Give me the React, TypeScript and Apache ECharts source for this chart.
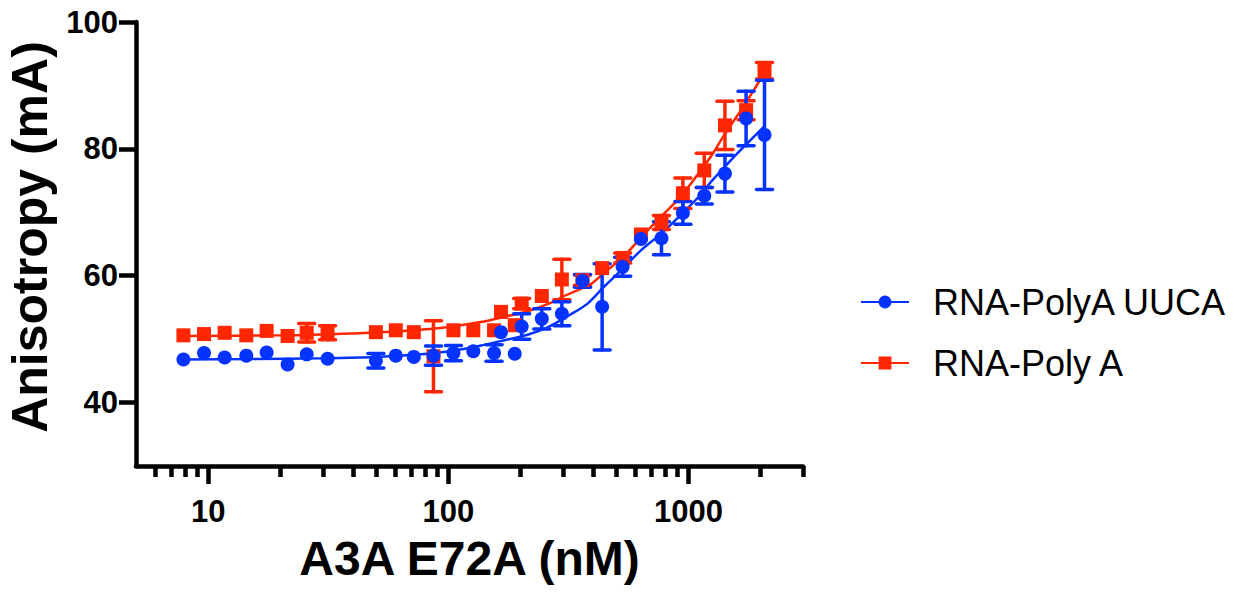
import React, { useEffect, useRef } from "react";
import * as echarts from "echarts";

// Concentration of A3A E72A (nM), shared by both datasets
const concentrations = [
  7.88, 9.6, 11.7, 14.4, 17.5, 21.4, 25.7, 31.4, 49.9, 60.4, 71.8, 86.7, 105, 127, 155,
  165.6, 189, 202, 245, 297, 362, 437, 532, 634, 772, 948, 1164, 1419, 1738, 2074,
];

// RNA-PolyA UUCA (blue circles)
const uucaMean = [
  46.8, 47.8, 47.1, 47.4, 47.9, 46.0, 47.6, 46.9, 46.6, 47.4, 47.2, 47.4, 47.8, 48.1, 47.8,
  51.1, 47.7, 52.0, 53.2, 54.0, 59.2, 55.1, 61.4, 65.8, 65.9, 69.9, 72.6, 76.1, 84.8, 82.2,
];
const uucaErr = [
  0, 0, 0, 0, 0, 0, 0, 0, 1.15, 0, 0, 1.5, 1.2, 0, 1.3,
  0, 0, 2.0, 1.6, 1.9, 1.0, 6.8, 1.5, 0, 2.6, 1.8, 1.3, 2.9, 4.3, 8.6,
];

// RNA-Poly A (red squares)
const polyAMean = [
  50.6, 50.8, 51.0, 50.6, 51.3, 50.5, 51.0, 51.0, 51.1, 51.4, 51.1, 47.3, 51.4, 51.4, 51.4,
  54.3, 52.2, 55.6, 56.8, 59.4, 59.3, 61.2, 62.8, 66.5, 68.4, 73.0, 76.6, 83.7, 86.1, 92.3,
];
const polyAErr = [
  0, 0, 0, 0, 0, 0, 1.45, 1.1, 0, 0, 0, 5.6, 0, 0, 0,
  0, 0, 0.8, 0, 3.2, 0.8, 0, 0.8, 0, 1.1, 2.4, 2.7, 3.8, 1.5, 1.3,
];

// Fitted curves
const uucaFitX = [7.88, 15, 30, 50, 77, 110, 137, 170, 214, 260, 320, 380, 446, 523, 634, 768, 930, 1127, 1241, 1500, 1750, 2074];
const uucaFitY = [46.8, 46.85, 47.0, 47.2, 47.6, 48.3, 49.0, 49.8, 50.7, 51.9, 53.8, 55.6, 58.3, 60.8, 64.0, 66.6, 69.6, 72.8, 74.8, 78.2, 80.8, 83.6];
const polyAFitX = [7.88, 20, 40, 60, 90, 136, 175, 214, 270, 300, 392, 446, 530, 634, 768, 930, 1091, 1250, 1410, 1710, 2074];
const polyAFitY = [50.5, 50.6, 50.9, 51.2, 51.7, 52.7, 53.6, 54.4, 55.8, 56.7, 58.7, 60.5, 62.8, 66.0, 69.3, 72.5, 75.9, 79.0, 82.2, 86.9, 92.0];

// Axis ticks
const xMajorTicks = [10, 100, 1000];
const xMinorTicks = [6, 7, 8, 9, 20, 30, 40, 50, 60, 70, 80, 90, 200, 300, 400, 500, 600, 700, 800, 900, 2000, 3000];
const yTicks = [40, 60, 80, 100];

const seriesNames = ["RNA-PolyA UUCA", "RNA-Poly A"];
const BLUE = "#0433FF";
const RED = "#FF2600";
const FONT = "'Liberation Sans', Arial, Helvetica, sans-serif";

function errorBars(name: string, mean: number[], err: number[], color: string) {
  return {
    type: "custom",
    name: name + " error",
    xAxisIndex: 0,
    yAxisIndex: 0,
    data: concentrations.map((c, i) => [c, mean[i], err[i]]),
    encode: { x: 0, y: 1 },
    silent: true,
    renderItem: (params: any, api: any) => {
      const x = api.value(0);
      const y = api.value(1);
      const e = api.value(2);
      if (!e) return null;
      const top = api.coord([x, y + e]);
      const bot = api.coord([x, y - e]);
      const hw = 8;
      const style = { stroke: color, lineWidth: 3.5, lineCap: "round" };
      return {
        type: "group",
        children: [
          { type: "line", shape: { x1: top[0], y1: top[1], x2: bot[0], y2: bot[1] }, style },
          { type: "line", shape: { x1: top[0] - hw, y1: top[1], x2: top[0] + hw, y2: top[1] }, style },
          { type: "line", shape: { x1: bot[0] - hw, y1: bot[1], x2: bot[0] + hw, y2: bot[1] }, style },
        ],
      };
    },
    z: 3,
  };
}

function fitLine(name: string, xs: number[], ys: number[], color: string, symbol: string) {
  return {
    type: "line",
    name,
    data: xs.map((x, i) => [x, ys[i]]),
    smooth: 0.3,
    symbol,
    symbolSize: 14,
    showSymbol: false,
    lineStyle: { color, width: 2.5 },
    itemStyle: { color },
    z: 2,
  };
}

function points(name: string, mean: number[], color: string, symbol: string) {
  return {
    type: "scatter",
    name: name + " points",
    data: concentrations.map((c, i) => [c, mean[i]]),
    symbol,
    symbolSize: 14,
    itemStyle: { color, opacity: 1 },
    z: 4,
  };
}

export default function App() {
  const ref = useRef<HTMLDivElement>(null);
  useEffect(() => {
    const chart = echarts.init(ref.current!, null, { renderer: "svg" });
    const axisLine = { show: true, lineStyle: { color: "#000", width: 4.5 } };
    chart.setOption({
      animation: false,
      backgroundColor: "#fff",
      grid: { left: 136, right: 436, top: 22, bottom: 126, containLabel: false, outerBoundsMode: "none" },
      legend: {
        data: seriesNames,
        orient: "vertical",
        left: 855,
        top: 279,
        itemWidth: 48,
        itemHeight: 16,
        itemGap: 25,
        textStyle: { fontFamily: FONT, fontSize: 36, color: "#000", padding: [0, 0, 0, 19] },
        selectedMode: false,
      },
      xAxis: [
        {
          type: "log",
          logBase: 10,
          min: 5,
          max: 3000,
          name: "A3A E72A (nM)",
          nameLocation: "middle",
          nameGap: 68,
          nameTextStyle: { fontFamily: FONT, fontSize: 48, fontWeight: "bold", color: "#000" },
          axisLine,
          axisTick: { show: true, customValues: xMajorTicks, length: 18, lineStyle: { color: "#000", width: 4.5 } },
          axisLabel: {
            customValues: xMajorTicks,
            formatter: (v: number) => String(Math.round(v)),
            fontFamily: FONT,
            fontSize: 31,
            fontWeight: "bold",
            color: "#000",
            margin: 30,
          },
          splitLine: { show: false },
          minorTick: { show: false },
        },
        {
          type: "log",
          logBase: 10,
          min: 5,
          max: 3000,
          position: "bottom",
          axisLine: { show: false },
          axisTick: { show: true, customValues: xMinorTicks, length: 11, lineStyle: { color: "#000", width: 4.5 } },
          axisLabel: { show: false },
          splitLine: { show: false },
        },
      ],
      yAxis: {
        type: "value",
        min: 30,
        max: 100,
        name: "Anisotropy (mA)",
        nameLocation: "middle",
        nameGap: 76,
        nameTextStyle: {
          fontFamily: FONT,
          fontSize: 50,
          fontWeight: "bold",
          color: "#000",
          padding: [0, 0, 0, 14],
        },
        axisLine,
        axisTick: { show: true, customValues: yTicks, length: 17, lineStyle: { color: "#000", width: 4.5 } },
        axisLabel: {
          customValues: yTicks,
          fontFamily: FONT,
          fontSize: 31,
          fontWeight: "bold",
          color: "#000",
          margin: 18,
        },
        splitLine: { show: false },
      },
      series: [
        fitLine(seriesNames[1], polyAFitX, polyAFitY, RED, "rect"),
        errorBars(seriesNames[1], polyAMean, polyAErr, RED),
        points(seriesNames[1], polyAMean, RED, "rect"),
        fitLine(seriesNames[0], uucaFitX, uucaFitY, BLUE, "circle"),
        errorBars(seriesNames[0], uucaMean, uucaErr, BLUE),
        points(seriesNames[0], uucaMean, BLUE, "circle"),
      ],
    });
    return () => chart.dispose();
  }, []);
  return <div ref={ref} style={{ position: "fixed", left: 0, top: 0, width: 1239, height: 592 }} />;
}
